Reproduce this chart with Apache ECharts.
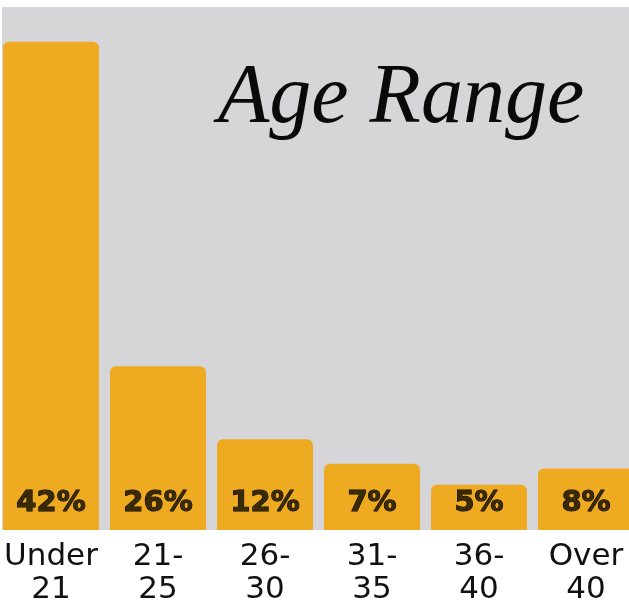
<!DOCTYPE html>
<html><head><meta charset="utf-8">
<script src="https://cdn.jsdelivr.net/npm/echarts@6/dist/echarts.min.js"></script>
<style>html,body{margin:0;padding:0;background:#fff}#c{width:629px;height:604px}</style>
</head><body><div id="c"></div>
<script>
const categories = ['Under\n21', '21-\n25', '26-\n30', '31-\n35', '36-\n40', 'Over\n40'];
const shareLabels = ['42%', '26%', '12%', '7%', '5%', '8%'];
// bar lengths as drawn in the picture (not proportional to the printed shares)
const barLength = [42, 14.1, 7.8, 5.7, 3.9, 5.3];
const yMax = 45;

const chart = echarts.init(document.getElementById('c'), null, {renderer: 'canvas'});
chart.setOption({
  animation: false,
  backgroundColor: '#ffffff',
  graphic: [{
    type: 'rect', z: -10, silent: true,
    shape: {x: 2, y: 7, width: 627, height: 523},
    style: {fill: '#d6d6d8'}
  }, {
    type: 'text', left: 218, top: 58, z: 10,
    style: {text: 'Age Range', font: 'italic 300 84px "Liberation Serif"', fill: '#0a0a0a'}
  }],
  grid: {left: -2.5, width: 642, top: 7, bottom: 74, outerBoundsMode: 'none', containLabel: false},
  xAxis: {
    type: 'category', data: categories,
    axisLine: {show: false}, axisTick: {show: false},
    axisLabel: {
      interval: 0, margin: 10, color: '#111',
      fontFamily: 'DejaVu Sans', fontSize: 31, lineHeight: 33
    }
  },
  yAxis: {type: 'value', min: 0, max: yMax, show: false, splitLine: {show: false}},
  series: [{
    type: 'bar', barWidth: 96,
    data: barLength.map((v, i) => ({value: v, label: {formatter: shareLabels[i]}})),
    itemStyle: {color: '#eeaa20', borderRadius: [6, 6, 0, 0]},
    label: {
      show: true, position: 'insideBottom', distance: 12,
      fontFamily: 'DejaVu Sans', fontSize: 29, fontWeight: 'bold',
      color: '#3a2a04', textBorderColor: '#000', textBorderWidth: 1
    }
  }]
});
</script></body></html>
